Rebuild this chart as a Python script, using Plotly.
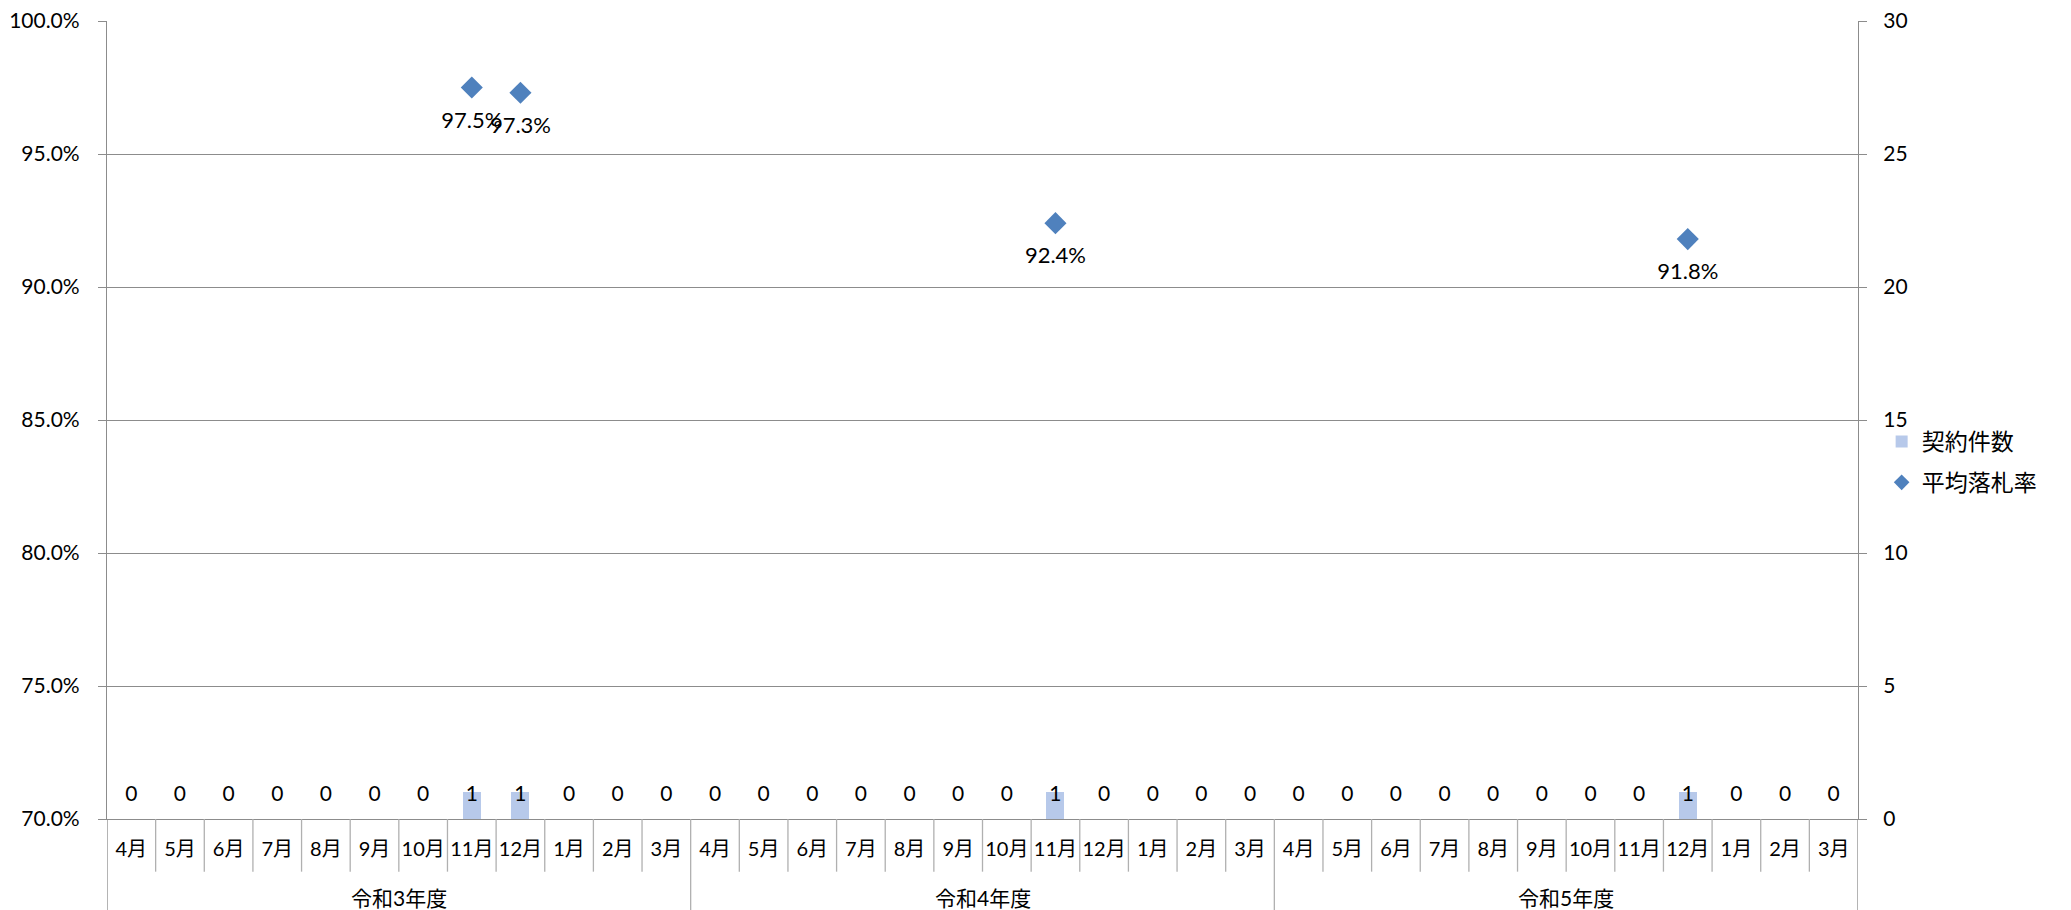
import plotly.graph_objects as go

years = ["令和3年度", "令和4年度", "令和5年度"]
months = ["4月", "5月", "6月", "7月", "8月", "9月", "10月", "11月", "12月", "1月", "2月", "3月"]

# 契約件数 per month (R3 Apr .. R5 Mar)
counts = [0, 0, 0, 0, 0, 0, 0, 1, 1, 0, 0, 0,
          0, 0, 0, 0, 0, 0, 0, 1, 0, 0, 0, 0,
          0, 0, 0, 0, 0, 0, 0, 0, 1, 0, 0, 0]

# 平均落札率 (None = no contract)
rates = [None, None, None, None, None, None, None, 0.975, 0.973, None, None, None,
         None, None, None, None, None, None, None, 0.924, None, None, None, None,
         None, None, None, None, None, None, None, None, 0.918, None, None, None]

FONT = "Lato, Noto Sans CJK JP, sans-serif"
GRID = "#8c8c8c"
n = len(counts)
x = list(range(n))
month_labels = months * len(years)

fig = go.Figure()

fig.add_trace(
    go.Bar(
        x=x,
        y=counts,
        name="契約件数",
        legendgroup="a",
        yaxis="y2",
        width=0.37,
        marker=dict(color="#b7c9ea", line=dict(width=0)),
    )
)

# count labels above the baseline
fig.add_trace(
    go.Scatter(
        x=x,
        y=[0.86] * n,
        yaxis="y2",
        mode="text",
        text=[str(c) for c in counts],
        textfont=dict(size=21, color="#000000", family=FONT),
        showlegend=False,
        hoverinfo="skip",
    )
)

fig.add_trace(
    go.Scatter(
        x=x,
        y=rates,
        name="平均落札率",
        legendgroup="b",
        mode="markers",
        marker=dict(symbol="diamond", size=17, color="#4f81bd"),
    )
)

# rate labels below the markers
fig.add_trace(
    go.Scatter(
        x=x,
        y=rates,
        mode="markers+text",
        marker=dict(size=36, color="rgba(0,0,0,0)"),
        text=[f"{r * 100:.1f}%" if r is not None else "" for r in rates],
        textposition="bottom center",
        textfont=dict(size=22, color="#000000", family=FONT),
        showlegend=False,
        hoverinfo="skip",
    )
)

shapes = []
# month dividers below the axis
for i in range(1, n):
    yb = -0.114 if i % 12 == 0 else -0.066
    shapes.append(dict(type="line", xref="x", yref="paper", x0=i - 0.5, x1=i - 0.5,
                       y0=0, y1=yb, line=dict(color="#b0b0b0", width=1.3)))
for xe in (-0.5, n - 0.5):
    shapes.append(dict(type="line", xref="x", yref="paper", x0=xe, x1=xe,
                       y0=0, y1=-0.114, line=dict(color=GRID, width=1.3)))

annotations = []
for k, yr in enumerate(years):
    annotations.append(dict(
        x=k * len(months) + (len(months) - 1) / 2, y=-0.098, xref="x", yref="paper",
        text=yr, showarrow=False, font=dict(size=21, color="#000000", family=FONT),
        yanchor="middle",
    ))

fig.update_layout(
    width=2071,
    height=910,
    paper_bgcolor="white",
    plot_bgcolor="white",
    font=dict(family=FONT, size=21, color="#000000"),
    margin=dict(l=107, r=213, t=21, b=91, autoexpand=False),
    bargap=0,
    shapes=shapes,
    annotations=annotations,
    xaxis=dict(
        range=[-0.5, n - 0.5],
        tickvals=x,
        ticktext=month_labels,
        ticks="outside",
        ticklen=12,
        tickcolor="rgba(0,0,0,0)",
        showgrid=False,
        showline=True,
        linecolor=GRID,
        linewidth=1.3,
        zeroline=False,
        automargin=False,
        tickfont=dict(size=20),
    ),
    yaxis=dict(
        range=[0.70, 1.00],
        dtick=0.05,
        tickformat=".1%",
        showgrid=True,
        gridcolor=GRID,
        gridwidth=1.3,
        showline=True,
        linecolor=GRID,
        linewidth=1.3,
        ticks="outside",
        ticklen=8,
        tickcolor=GRID,
        ticklabelstandoff=14,
        zeroline=False,
        automargin=False,
        tickfont=dict(size=21),
    ),
    yaxis2=dict(
        range=[0, 30],
        dtick=5,
        overlaying="y",
        side="right",
        showgrid=False,
        showline=True,
        linecolor=GRID,
        linewidth=1.3,
        ticks="outside",
        ticklen=8,
        tickcolor=GRID,
        ticklabelstandoff=12,
        zeroline=False,
        automargin=False,
        tickfont=dict(size=21),
    ),
    legend=dict(
        x=1.0135,
        y=0.50,
        xanchor="left",
        yanchor="top",
        font=dict(size=23),
        bgcolor="rgba(0,0,0,0)",
        itemsizing="constant",
        tracegroupgap=8,
    ),
)

fig.write_html(
    "out.html",
    config={"displayModeBar": False},
    post_script="document.body.style.margin='0';",
)
